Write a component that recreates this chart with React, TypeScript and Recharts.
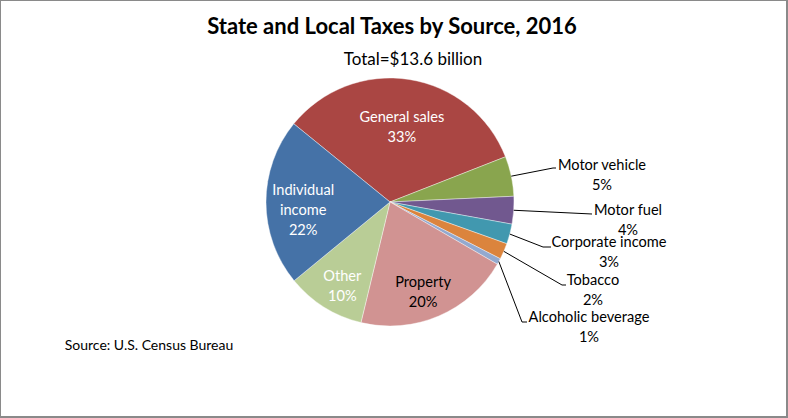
import { PieChart, Pie, Cell } from "recharts";

const categories = [
  "General sales",
  "Motor vehicle",
  "Motor fuel",
  "Corporate income",
  "Tobacco",
  "Alcoholic beverage",
  "Property",
  "Other",
  "Individual income",
];
const shares = [33.2, 5.2, 3.6, 2.6, 2.1, 0.8, 20.4, 10.3, 21.8];
const colors = [
  "#AA4643",
  "#89A54E",
  "#71588F",
  "#4198AF",
  "#DB843D",
  "#93A9CF",
  "#D19392",
  "#B9CD96",
  "#4572A7",
];

const data = categories.map((name, i) => ({ name, value: shares[i] }));

const FONT = "Lato, 'Open Sans', sans-serif";
const RAD = Math.PI / 180;
const LABEL_SIZE = 14.6;

// label placement: inside labels use a radius factor (+ nudge), outside labels an anchor point
const inside: Record<string, { r: number; dx: number; dy: number; lines: string[]; fill: string }> = {
  "General sales": { r: 0.62, dx: 0, dy: 0, lines: ["General sales"], fill: "#fff" },
  "Individual income": { r: 0.7, dx: 0, dy: 7, lines: ["Individual", "income"], fill: "#fff" },
  Other: { r: 0.77, dx: 3, dy: 3, lines: ["Other"], fill: "#fff" },
  Property: { r: 0.76, dx: -4, dy: 3, lines: ["Property"], fill: "#000" },
};
const outside: Record<string, { x: number; y: number; lx: number; ly: number; tx: number }> = {
  "Motor vehicle": { x: 602, y: 164, lx: 553, ly: 168, tx: 556 },
  "Motor fuel": { x: 628, y: 209, lx: 592, ly: 214, tx: 592 },
  "Corporate income": { x: 609, y: 241, lx: 543, ly: 247, tx: 551 },
  Tobacco: { x: 593, y: 279, lx: 562, ly: 285, tx: 566 },
  "Alcoholic beverage": { x: 589, y: 316, lx: 522, ly: 322, tx: 527 },
};

const renderLabel = (props: any) => {
  const { cx, cy, midAngle, outerRadius, index } = props;
  const name = categories[index];
  const pct = `${Math.round(shares[index])}%`;
  const cos = Math.cos(-midAngle * RAD);
  const sin = Math.sin(-midAngle * RAD);
  if (inside[name]) {
    const s = inside[name];
    const lines = [...s.lines, pct];
    const r = outerRadius * s.r;
    const x = cx + r * cos + s.dx;
    const y = cy + r * sin + s.dy;
    const top = y - ((lines.length - 1) * 20) / 2;
    return (
      <g key={name}>
        {lines.map((t, k) => (
          <text
            key={k}
            x={x}
            y={top + k * 20}
            textAnchor="middle"
            dominantBaseline="central"
            fill={s.fill}
            fontSize={LABEL_SIZE}
            fontFamily={FONT}
          >
            {t}
          </text>
        ))}
      </g>
    );
  }
  const o = outside[name];
  const sx = cx + outerRadius * cos;
  const sy = cy + outerRadius * sin;
  return (
    <g key={name}>
      <polyline
        points={`${sx},${sy} ${o.lx},${o.ly} ${o.tx},${o.ly}`}
        fill="none"
        stroke="#000"
        strokeWidth={1}
      />
      <text x={o.x} y={o.y} textAnchor="middle" dominantBaseline="central" fontSize={LABEL_SIZE} fontFamily={FONT} fill="#000">
        {name}
      </text>
      <text x={o.x} y={o.y + 20} textAnchor="middle" dominantBaseline="central" fontSize={LABEL_SIZE} fontFamily={FONT} fill="#000">
        {pct}
      </text>
    </g>
  );
};

export default function App() {
  return (
    <div
      style={{
        position: "absolute",
        left: 0,
        top: 0,
        width: 788,
        height: 418,
        boxSizing: "border-box",
        borderTop: "1px solid #8a8a8a",
        borderLeft: "1px solid #8a8a8a",
        borderRight: "2px solid #8a8a8a",
        borderBottom: "2px solid #8a8a8a",
        background: "#fff",
        overflow: "hidden",
      }}
    >
      <PieChart
        width={788}
        height={418}
        margin={{ top: 0, right: 0, bottom: 0, left: 0 }}
        style={{ position: "absolute", left: -1, top: -1 }}
      >
        <text x={392} y={25} textAnchor="middle" dominantBaseline="central" fontSize={22} fontWeight={700} fontFamily={FONT} fill="#000">
          State and Local Taxes by Source, 2016
        </text>
        <text x={413} y={58} textAnchor="middle" dominantBaseline="central" fontSize={17} fontFamily={FONT} fill="#000">
          Total=$13.6 billion
        </text>
        <text x={149} y={344} textAnchor="middle" dominantBaseline="central" fontSize={14} fontFamily={FONT} fill="#000">
          Source: U.S. Census Bureau
        </text>
        <Pie
          data={data}
          dataKey="value"
          nameKey="name"
          cx={390}
          cy={202}
          outerRadius={124}
          startAngle={140.9}
          endAngle={-219.1}
          stroke="#fff"
          strokeWidth={0.4}
          label={renderLabel}
          labelLine={false}
          isAnimationActive={false}
        >
          {data.map((d, i) => (
            <Cell key={d.name} fill={colors[i]} />
          ))}
        </Pie>
      </PieChart>
    </div>
  );
}
